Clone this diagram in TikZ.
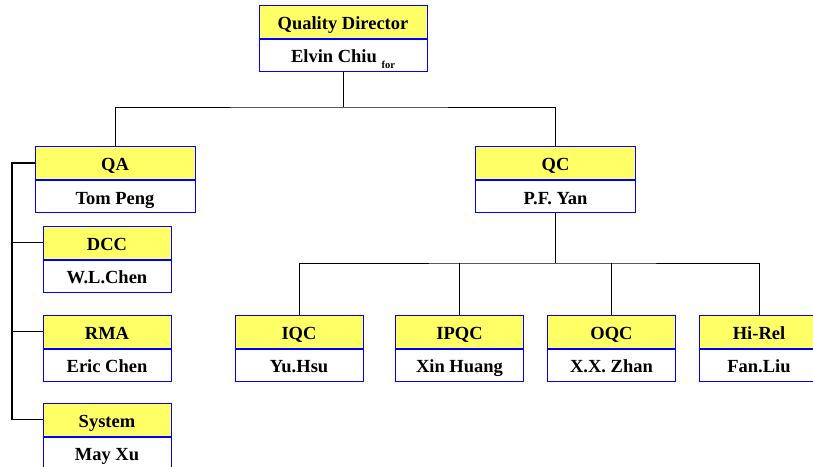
\documentclass[tikz,border=0pt]{standalone}
\usepackage{fontspec}
\setmainfont{Liberation Serif}
\definecolor{headyellow}{HTML}{FFFF66}
\definecolor{boxblue}{HTML}{0000FF}
\begin{document}
\begin{tikzpicture}[x=1pt, y=-1pt,
    font=\fontsize{18.5}{20}\selectfont\bfseries,
    head/.style={draw=boxblue, fill=headyellow, line width=1pt,
      minimum height=33pt, inner sep=0pt, text height=16pt, text depth=0.5pt},
    who/.style={draw=boxblue, fill=white, line width=1pt, anchor=north,
      minimum height=32pt, inner sep=0pt, text height=16pt, text depth=0.5pt},
    wide/.style={minimum width=160pt},
    slim/.style={minimum width=128pt},
    link/.style={line width=0.8pt, black}]

  \clip (0,0) rectangle (813,466);

% ---------------- the director
  \node[head, minimum width=168pt] (dir) at (343,21.5) {Quality Director};
  \node[who, minimum width=168pt] (dir-n) at (dir.south)
    {Elvin Chiu \raisebox{-0.3em}{\fontsize{10.5}{11}\selectfont for}};

% ---------------- second level: QA and QC
  \node[head, wide] (qa) at (115,163) {QA};
  \node[who, wide] (qa-n) at (qa.south) {Tom Peng};
  \node[head, wide] (qc) at (555.5,163) {QC};
  \node[who, wide] (qc-n) at (qc.south) {P.F. Yan};

% ---------------- the QA group, hung down the left side
  \node[head, slim] (dcc) at (107,242.5) {DCC};
  \node[who, slim] (dcc-n) at (dcc.south) {W.L.Chen};
  \node[head, slim] (rma) at (107,331.5) {RMA};
  \node[who, slim] (rma-n) at (rma.south) {Eric Chen};
  \node[head, slim] (sys) at (107,419.5) {System};
  \node[who, slim] (sys-n) at (sys.south) {May Xu};

% ---------------- the QC group, in one row
  \node[head, slim] (iqc) at (299,331.5) {IQC};
  \node[who, slim] (iqc-n) at (iqc.south) {Yu.Hsu};
  \node[head, slim] (ipqc) at (459.5,331.5) {IPQC};
  \node[who, slim] (ipqc-n) at (ipqc.south) {Xin Huang};
  \node[head, slim] (oqc) at (611.5,331.5) {OQC};
  \node[who, slim] (oqc-n) at (oqc.south) {X.X. Zhan};
  \node[head, minimum width=120pt] (hirel) at (759,331.5) {Hi-Rel};
  \node[who, minimum width=120pt] (hirel-n) at (hirel.south) {Fan.Liu};

% ---------------- heavier rule between title and name
  \foreach \b in {dir,qa,qc,dcc,rma,sys,iqc,ipqc,oqc,hirel}
    \draw[boxblue, line width=1.8pt] (\b.south west) -- (\b.south east);

% ---------------- connectors
  \coordinate (top-bus) at (343,107);
  \coordinate (qc-bus) at (555.5,263);
  \coordinate (rail) at (12,0);
  \draw[link] (dir-n.south) -- (top-bus);
  \draw[link] (qa.north) |- (top-bus) -| (qc.north);
  \draw[link] (qc-n.south) -- (qc-bus);
  \draw[link] (iqc.north) |- (qc-bus) -| (hirel.north);
  \draw[link] (ipqc.north) -- (ipqc.north |- qc-bus);
  \draw[link] (oqc.north) -- (oqc.north |- qc-bus);
  \draw[link, line width=1.2pt] (qa.west) -- (qa.west -| rail) -- (sys.west -| rail) -- (sys.west);
  \draw[link] (dcc.west) -- (dcc.west -| rail);
  \draw[link] (rma.west) -- (rma.west -| rail);
\end{tikzpicture}
\end{document}
